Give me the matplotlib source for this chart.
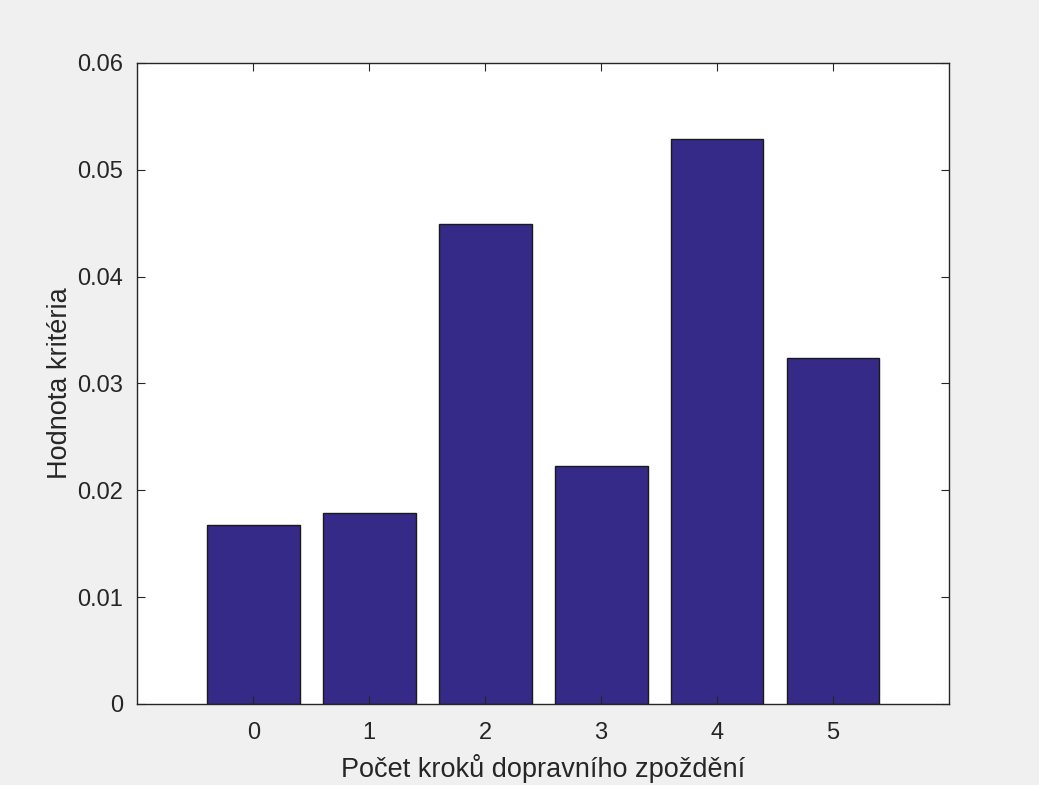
import numpy as np
import matplotlib.pyplot as plt

plt.rcParams['font.family'] = ['Liberation Sans', 'DejaVu Sans']

# values
steps = [0, 1, 2, 3, 4, 5]
criterion = [0.01676, 0.01791, 0.04497, 0.02228, 0.05284, 0.03243]
y_ticks = [0, 0.01, 0.02, 0.03, 0.04, 0.05, 0.06]
y_labels = ["0", "0.01", "0.02", "0.03", "0.04", "0.05", "0.06"]

fig = plt.figure(figsize=(10.39, 7.85), dpi=100, facecolor="#f0f0f0")
ax = fig.add_axes([0.1321, 0.1032, 0.7813, 0.8166])

ax.bar(steps, criterion, width=0.8, color="#352a87", edgecolor="#1a1a1a", linewidth=1.0)

ax.set_xlim(-1, 6)
ax.set_ylim(0, 0.06)
ax.set_xticks(steps)
ax.set_yticks(y_ticks)
ax.set_yticklabels(y_labels)

dark = "#262626"
for s in ax.spines.values():
    s.set_color(dark)
    s.set_linewidth(1.0)
ax.tick_params(direction="in", length=6, width=0.8, colors=dark, labelsize=17,
               top=True, right=True, pad=10)
ax.tick_params(axis="x", pad=13)

ax.set_xlabel("Počet kroků dopravního zpoždění", fontsize=19.5, color=dark, labelpad=7)
ax.set_ylabel("Hodnota kritéria", fontsize=19.5, color=dark, labelpad=3)

fig.savefig("out.png", dpi=100, facecolor=fig.get_facecolor())
